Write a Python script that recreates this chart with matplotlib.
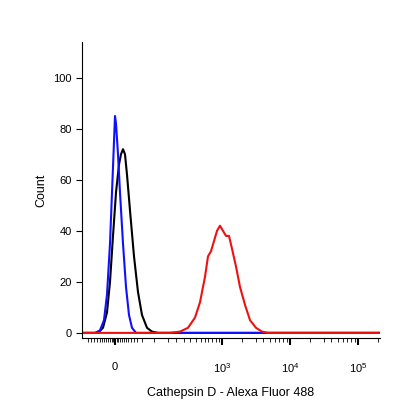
import matplotlib
matplotlib.use("Agg")
import matplotlib.pyplot as plt
import numpy as np
plt.rcParams['font.family'] = ['Liberation Sans', 'DejaVu Sans']

# x positions on the display (biexponential) scale
blue_x = [82, 95, 100, 104, 107, 110, 112, 114, 115, 116, 118, 120, 123, 126, 129, 132, 136, 380]
blue_y = [0, 0, 1, 5, 15, 35, 55, 75, 85, 82, 70, 55, 35, 18, 7, 2, 0, 0]
black_x = [82, 98, 103, 107, 110, 113, 116, 119, 121, 123, 125, 127, 130, 134, 138, 142, 147, 152, 158, 380]
black_y = [0, 0, 2, 8, 20, 38, 55, 66, 70, 72, 70, 62, 48, 30, 16, 7, 2, 0.5, 0, 0]
red_x = [82, 170, 180, 188, 195, 200, 205, 208, 211, 214, 217, 220, 223, 226, 229, 232, 236, 240, 245, 250, 256, 262, 268, 380]
red_y = [0, 0, 0.5, 2, 6, 12, 22, 30, 32, 36, 40, 42, 40, 38, 38, 33, 26, 18, 11, 5, 2, 0.5, 0, 0]

major_pos = [115, 222, 290, 358]
major_lab = ['0', r'$\mathregular{10^3}$', r'$\mathregular{10^4}$', r'$\mathregular{10^5}$']
minor_pos = [88, 91, 94, 97, 100, 102, 104, 106, 108, 110, 112, 113, 117, 118, 120, 122, 124, 126, 128, 131, 134, 137, 142,
             154, 168, 176, 184, 190, 196, 201, 205, 208, 212, 216, 219,
             242, 256, 263, 270, 275, 279, 283, 287,
             310, 324, 331, 338, 343, 347, 351, 355, 378]

fig = plt.figure(figsize=(4.16, 4.16), dpi=100)
ax = fig.add_axes([82/416, (416-338)/416, (380-82)/416, (338-42)/416])
ax.plot(black_x, black_y, color='black', lw=1.5)
ax.plot(blue_x, blue_y, color='#1010ff', lw=1.5)
ax.plot(red_x, red_y, color='#ee1111', lw=1.5)
ax.set_xlim(82, 380)
ax.set_ylim(-2, 114)
ax.spines['top'].set_visible(False)
ax.spines['right'].set_visible(False)
ax.set_yticks([0, 20, 40, 60, 80, 100])
ax.tick_params(axis='y', labelsize=8, length=4, direction='out')
ax.set_xticks(major_pos)
ax.set_xticklabels(major_lab)
ax.set_xticks(minor_pos, minor=True)
ax.tick_params(axis='x', which='major', length=5, width=1.5, labelsize=8, pad=12)
ax.tick_params(axis='x', which='minor', length=3)
ax.set_ylabel('Count', fontsize=9)
ax.set_xlabel('Cathepsin D - Alexa Fluor 488', fontsize=9, labelpad=8)
fig.savefig('out.png', dpi=100)
